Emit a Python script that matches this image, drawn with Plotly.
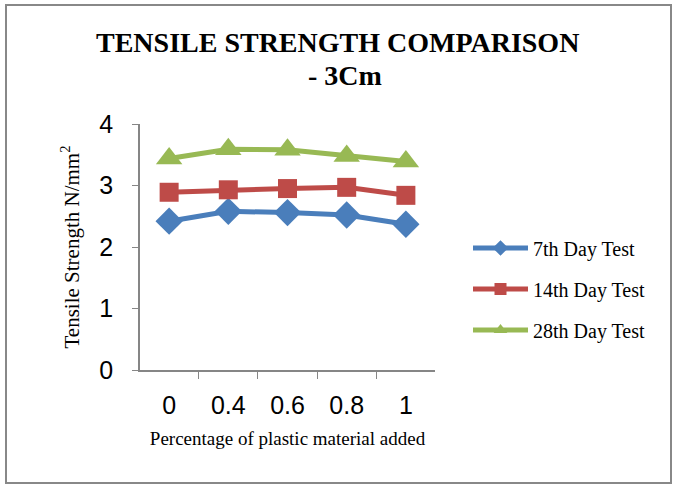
import plotly.graph_objects as go

categories = ["0", "0.4", "0.6", "0.8", "1"]
day7 = [2.42, 2.58, 2.56, 2.52, 2.37]
day14 = [2.89, 2.93, 2.95, 2.97, 2.84]
day28 = [3.44, 3.59, 3.58, 3.48, 3.39]
series_names = ["7th Day Test", "14th Day Test", "28th Day Test"]
colors = ["#4A7EBB", "#BE4B48", "#98B954"]
symbols = ["diamond", "square", "triangle-up"]
marker_sizes = [21, 19, 23]
yticks = [0, 1, 2, 3, 4]
title_lines = ["TENSILE STRENGTH COMPARISON", "- 3Cm"]

fig = go.Figure()
for name, vals, c, s, ms in zip(series_names, [day7, day14, day28], colors, symbols, marker_sizes):
    fig.add_trace(go.Scatter(
        x=categories, y=vals, name=name, mode="lines+markers", legendgroup=name,
        line=dict(color=c, width=5),
        marker=dict(symbol=s, size=ms, color=c),
    ))

W, H = 676, 485
L, R, T, B = 140, 241, 124, 115
pw, ph = W - L - R, H - T - B
fig.update_layout(
    width=W, height=H,
    margin=dict(l=L, r=R, t=T, b=B),
    paper_bgcolor="white", plot_bgcolor="white",
    showlegend=True,
    legend=dict(x=(468 - L) / pw, y=(H - B - 289) / ph, xanchor="left", yanchor="middle",
                font=dict(family="Liberation Serif", size=20, color="#000"),
                tracegroupgap=12, itemwidth=55, itemsizing="constant"),
)
for txt, cx, cy in zip(title_lines, [337, 345], [42, 75]):
    fig.add_annotation(
        text="<b>" + txt + "</b>",
        xref="paper", yref="paper", x=(cx - L) / pw, y=1 + (T - cy) / ph,
        xanchor="center", yanchor="middle", showarrow=False,
        font=dict(family="Liberation Serif", size=28, color="#000"),
    )
fig.update_xaxes(
    type="category", showgrid=False, showline=True, linecolor="#868686", linewidth=1.5,
    ticks="outside", tickson="boundaries", ticklen=7, tickcolor="#868686",
    ticklabelstandoff=12,
    tickfont=dict(family="Liberation Sans", size=25, color="#000"),
    title=dict(text="Percentage of plastic material added",
               font=dict(family="Liberation Serif", size=19, color="#000"), standoff=14),
)
fig.update_yaxes(
    range=[0, 4], tickvals=yticks, showgrid=False, showline=True, linecolor="#868686",
    linewidth=1.5, ticks="outside", ticklen=6, tickcolor="#868686", zeroline=False,
    ticklabelstandoff=14,
    tickfont=dict(family="Liberation Sans", size=25, color="#000"),
    title=dict(text="Tensile Strength N/mm<sup>2</sup>",
               font=dict(family="Liberation Serif", size=21, color="#000"), standoff=14),
)
fig.add_shape(type="rect", xref="paper", yref="paper",
              x0=(6 - L) / pw, x1=(671 - L) / pw,
              y0=(H - B - 483) / ph, y1=(H - B - 5) / ph,
              line=dict(color="#888888", width=2), layer="below")
fig.write_html("out.html", config={"displayModeBar": False},
               post_script="document.body.style.margin='0';")
